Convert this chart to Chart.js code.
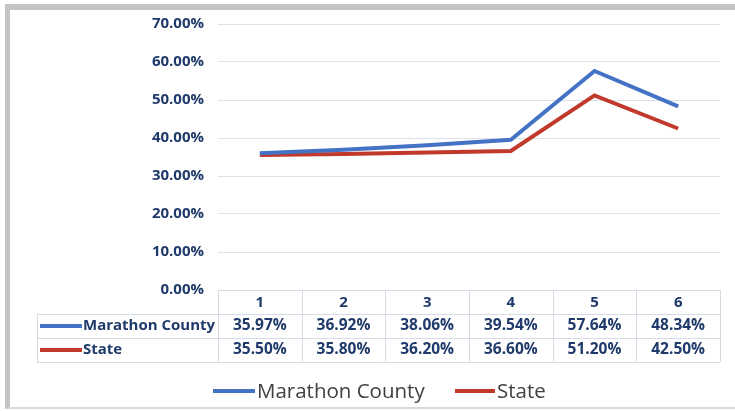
<!DOCTYPE html>
<html>
<head>
<meta charset="utf-8">
<script src="https://cdn.jsdelivr.net/npm/chart.js@4/dist/chart.umd.min.js"></script>
<style>
html,body{margin:0;padding:0;background:#fff;}
#wrap{position:absolute;left:0;top:0;width:735px;height:411px;}
#frame{position:absolute;left:5px;top:4px;width:730px;height:405px;border-left:5px solid #c4c4c4;border-top:6px solid #c4c4c4;border-bottom:2px solid #d9d9d9;box-sizing:border-box;}
canvas{position:absolute;left:0;top:0;}
</style>
</head>
<body>
<div id="wrap">
<div id="frame"></div>
<canvas id="c" width="735" height="411"></canvas>
</div>
<script>
const categories = ["1","2","3","4","5","6"];
const seriesNames = ["Marathon County","State"];
const marathonCounty = [0.3597,0.3692,0.3806,0.3954,0.5764,0.4834];
const state = [0.3550,0.3580,0.3620,0.3660,0.5120,0.4250];
const yTicks = [0,0.1,0.2,0.3,0.4,0.5,0.6,0.7];
const colors = ["#4472c4","#c0392b"];

const tickColor = "#1f3a6b";
const pct = v => (v*100).toFixed(2) + "%";

const tablePlugin = {
  id: 'dataTable',
  afterDraw(chart) {
    const ctx = chart.ctx;
    const x = chart.scales.x;
    const area = chart.chartArea;
    const top = area.bottom;
    const rowH = 24;
    const labelLeft = 37;
    const right = area.right;
    const step = x.getPixelForValue(1) - x.getPixelForValue(0);
    const colEdges = categories.map((c,i)=>x.getPixelForValue(i) - step/2);
    colEdges.push(x.getPixelForValue(categories.length-1) + step/2);
    ctx.save();
    ctx.strokeStyle = "#d6dce6";
    ctx.lineWidth = 1;
    ctx.beginPath();
    ctx.moveTo(area.left, top+0.5); ctx.lineTo(right, top+0.5);
    for (let r=1;r<=3;r++){
      const y = Math.round(top + r*rowH)+0.5;
      ctx.moveTo(labelLeft, y); ctx.lineTo(right, y);
    }
    colEdges.forEach((e)=>{
      const xx = Math.round(e)+0.5;
      ctx.moveTo(xx, top); ctx.lineTo(xx, top+3*rowH);
    });
    ctx.moveTo(labelLeft+0.5, top+rowH); ctx.lineTo(labelLeft+0.5, top+3*rowH);
    ctx.stroke();

    ctx.fillStyle = tickColor;
    ctx.textAlign = "center";
    ctx.textBaseline = "middle";
    ctx.font = "bold 15px 'Open Sans', 'Liberation Sans', sans-serif";
    categories.forEach((c,i)=>{
      ctx.fillText(c, x.getPixelForValue(i), top + rowH/2 + 1);
    });
    const rows = [marathonCounty, state];
    rows.forEach((vals, r)=>{
      const cy = top + rowH*(r+1) + rowH/2;
      ctx.font = "bold 15.5px 'Open Sans', 'Liberation Sans', sans-serif";
      vals.forEach((v,i)=>{
        ctx.fillText(pct(v), x.getPixelForValue(i), cy);
      });
      ctx.strokeStyle = colors[r];
      ctx.lineWidth = 4;
      ctx.beginPath();
      ctx.moveTo(40, cy); ctx.lineTo(82, cy);
      ctx.stroke();
      ctx.textAlign = "left";
      ctx.font = "bold 15px 'Open Sans', 'Liberation Sans', sans-serif";
      ctx.fillText(seriesNames[r], 83, cy);
      ctx.textAlign = "center";
    });

    // legend
    const ly = 391;
    const legendItems = [{x0: 213, x1: 255}, {x0: 455, x1: 495}];
    ctx.font = "20.5px 'Open Sans', 'Liberation Sans', sans-serif";
    ctx.textAlign = "left";
    seriesNames.forEach((name, i)=>{
      const it = legendItems[i];
      ctx.strokeStyle = colors[i];
      ctx.lineWidth = 4;
      ctx.beginPath();
      ctx.moveTo(it.x0, ly); ctx.lineTo(it.x1, ly);
      ctx.stroke();
      ctx.fillStyle = "#404040";
      ctx.fillText(name, it.x1 + 2, ly + 1);
    });
    ctx.restore();
  }
};

new Chart(document.getElementById('c'), {
  type: 'line',
  data: {
    labels: categories,
    datasets: [
      {label: seriesNames[0], data: marathonCounty, borderColor: colors[0], backgroundColor: colors[0], borderWidth: 4, pointRadius: 0, tension: 0},
      {label: seriesNames[1], data: state, borderColor: colors[1], backgroundColor: colors[1], borderWidth: 4, pointRadius: 0, tension: 0}
    ]
  },
  options: {
    responsive: false,
    animation: false,
    layout: {padding: {left: 0, right: 15, top: 24, bottom: 0}},
    scales: {
      x: {
        offset: true,
        grid: {display: false},
        border: {display: false},
        ticks: {display: false},
        afterFit: s => { s.height = 121; }
      },
      y: {
        min: 0, max: 0.7,
        afterBuildTicks: s => { s.ticks = yTicks.map(v=>({value:v})); },
        afterFit: s => { s.width = 218; },
        grid: {color: "#dde2ea", drawTicks: false},
        border: {display: false},
        ticks: {
          color: tickColor,
          padding: 14,
          font: {family: "'Open Sans', 'Liberation Sans', sans-serif", size: 15, weight: 'bold'},
          callback: v => pct(v)
        }
      }
    },
    plugins: {
      tooltip: {enabled: false},
      legend: {display: false}
    }
  },
  plugins: [tablePlugin]
});
</script>
</body>
</html>
